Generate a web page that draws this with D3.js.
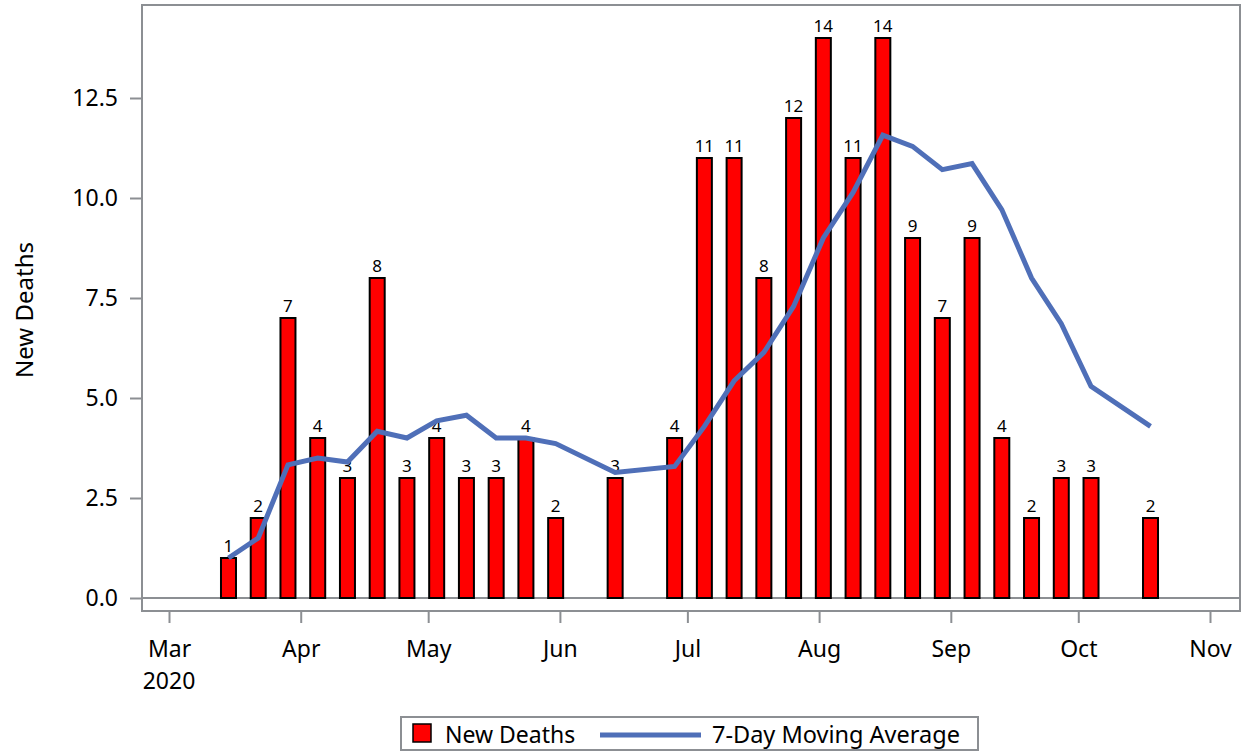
<!DOCTYPE html>
<html><head><meta charset="utf-8">
<script src="https://cdn.jsdelivr.net/npm/d3@7"></script>
<style>body{margin:0;background:#fff}svg{display:block}text{font-family:"Noto Sans",sans-serif;fill:#000}</style>
</head><body><svg id="c" width="1245" height="753"></svg>
<script>
const weeks = ["2020-03-15","2020-03-22","2020-03-29","2020-04-05","2020-04-12","2020-04-19","2020-04-26","2020-05-03","2020-05-10","2020-05-17","2020-05-24","2020-05-31","2020-06-14","2020-06-28","2020-07-05","2020-07-12","2020-07-19","2020-07-26","2020-08-02","2020-08-09","2020-08-16","2020-08-23","2020-08-30","2020-09-06","2020-09-13","2020-09-20","2020-09-27","2020-10-04","2020-10-18"];
const newDeaths = [1,2,7,4,3,8,3,4,3,3,4,2,3,4,11,11,8,12,14,11,14,9,7,9,4,2,3,3,2];
const movingAvg = [1.00,1.50,3.33,3.50,3.40,4.17,4.00,4.43,4.57,4.00,4.00,3.86,3.14,3.29,4.29,5.43,6.14,7.29,9.00,10.14,11.57,11.29,10.71,10.86,9.71,8.00,6.86,5.29,4.29];
const yTicks = [0,2.5,5,7.5,10,12.5];
const monthTicks = ["2020-03-01","2020-04-01","2020-05-01","2020-06-01","2020-07-01","2020-08-01","2020-09-01","2020-10-01","2020-11-01"];
const monthLabels = ["Mar","Apr","May","Jun","Jul","Aug","Sep","Oct","Nov"];

const parse = d3.utcParse("%Y-%m-%d");
const svg = d3.select("#c");
const frame = {l:142, t:5, r:1240, b:611};
const x = d3.scaleUtc().domain([parse("2020-03-01"), parse("2020-11-01")]).range([169, 1210]);
const y = d3.scaleLinear().domain([0, 12.5]).range([598, 98]);
const gray = "#8c8f93";
const fs = 23;

// baseline
svg.append("line").attr("x1",frame.l).attr("x2",frame.r).attr("y1",y(0)).attr("y2",y(0)).attr("stroke",gray).attr("stroke-width",2);

// bars
const bw = 15;
svg.append("g").selectAll("rect").data(weeks).join("rect")
  .attr("x",(d)=>x(parse(d))-bw/2).attr("width",bw)
  .attr("y",(d,i)=>y(newDeaths[i])).attr("height",(d,i)=>y(0)-y(newDeaths[i]))
  .attr("fill","#ff0000").attr("stroke","#000").attr("stroke-width",2);
svg.append("g").selectAll("text").data(weeks).join("text")
  .attr("x",(d)=>x(parse(d))).attr("y",(d,i)=>y(newDeaths[i])-6)
  .attr("text-anchor","middle").attr("font-size",17).text((d,i)=>newDeaths[i]);

// line
const line = d3.line().x((d)=>x(parse(d))).y((d,i)=>y(movingAvg[i]));
svg.append("path").datum(weeks).attr("d",line).attr("fill","none").attr("stroke","#4f6fb8").attr("stroke-width",5).attr("stroke-linejoin","miter");

// frame
svg.append("rect").attr("x",frame.l).attr("y",frame.t).attr("width",frame.r-frame.l).attr("height",frame.b-frame.t)
  .attr("fill","none").attr("stroke",gray).attr("stroke-width",2);

// y axis
const ya = svg.append("g").attr("transform",`translate(${frame.l},0)`)
  .call(d3.axisLeft(y).tickValues(yTicks).tickFormat(d3.format(".1f")).tickSize(12).tickPadding(12));
ya.select(".domain").remove();
ya.selectAll("line").attr("stroke",gray).attr("stroke-width",2);
ya.selectAll("text").attr("font-size",fs).attr("font-family","Noto Sans");

// x axis
const xa = svg.append("g").attr("transform",`translate(0,${frame.b})`)
  .call(d3.axisBottom(x).tickValues(monthTicks.map(parse)).tickFormat((d,i)=>monthLabels[i]).tickSize(12).tickPadding(18));
xa.select(".domain").remove();
xa.selectAll("line").attr("stroke",gray).attr("stroke-width",2);
xa.selectAll("text").attr("font-size",fs).attr("font-family","Noto Sans");
svg.append("text").attr("x",x(parse(monthTicks[0]))).attr("y",689).attr("text-anchor","middle").attr("font-size",fs).text("2020");

// y label
svg.append("text").attr("transform","translate(33,310) rotate(-90)").attr("text-anchor","middle").attr("font-size",24).text("New Deaths");

// legend
const lg = svg.append("g");
lg.append("rect").attr("x",401).attr("y",717).attr("width",577).attr("height",33).attr("fill","#fff").attr("stroke",gray).attr("stroke-width",2);
lg.append("rect").attr("x",413).attr("y",724).attr("width",18).attr("height",18).attr("fill","#ff0000").attr("stroke","#000").attr("stroke-width",1.5);
lg.append("text").attr("x",445).attr("y",743).attr("font-size",fs).text("New Deaths");
lg.append("line").attr("x1",600).attr("x2",701).attr("y1",735).attr("y2",735).attr("stroke","#4f6fb8").attr("stroke-width",5);
lg.append("text").attr("x",712).attr("y",743).attr("font-size",23.5).text("7-Day Moving Average");
</script></body></html>
